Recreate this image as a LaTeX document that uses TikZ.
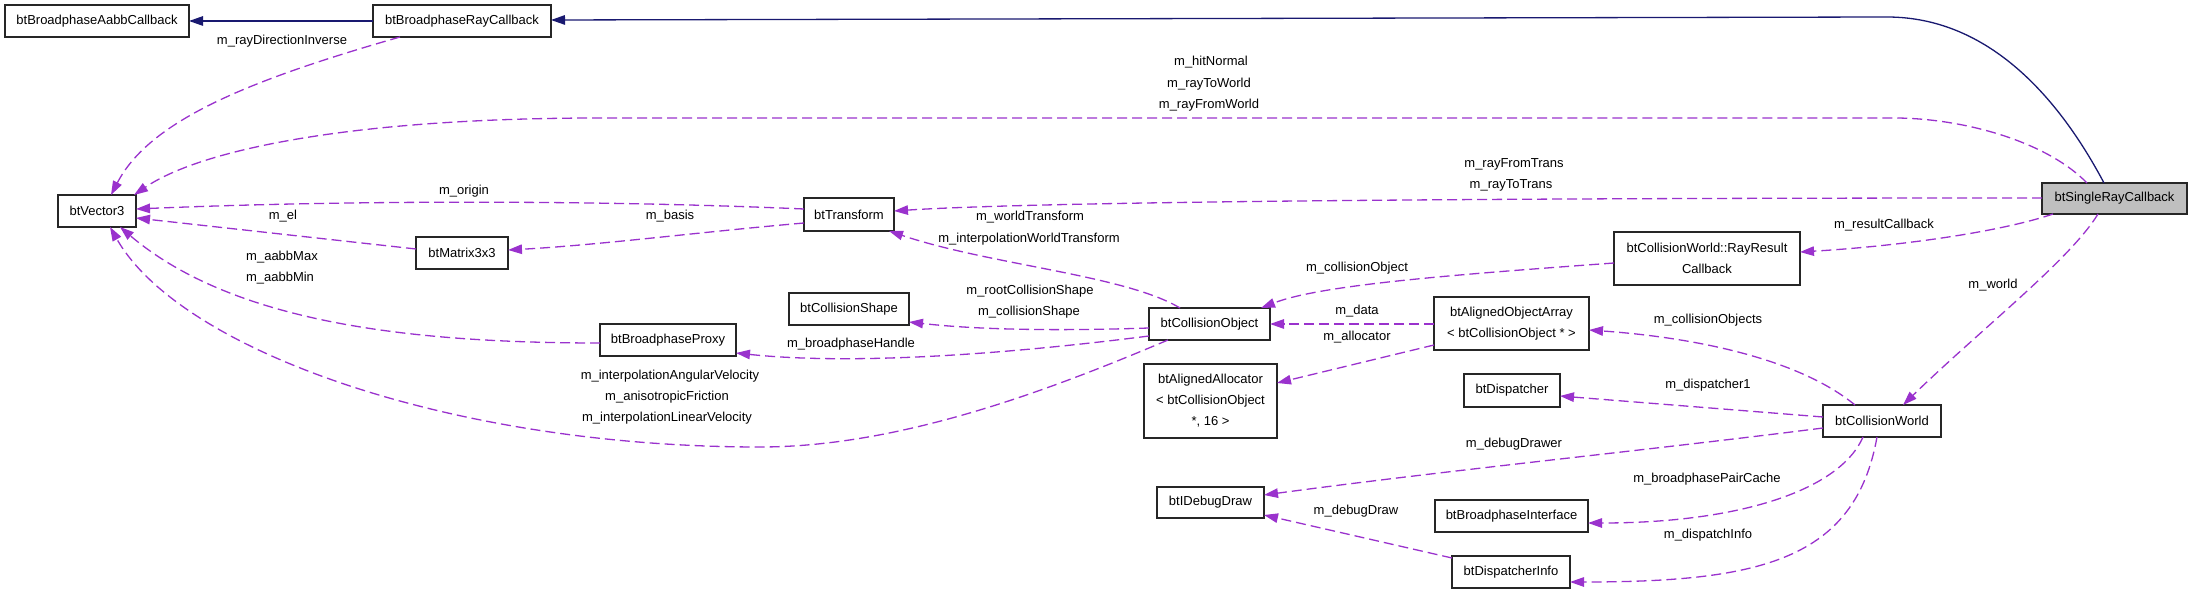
\documentclass[tikz,border=0pt]{standalone}
\usepackage{fontspec}
\setmainfont{Liberation Sans}
\usetikzlibrary{arrows.meta,calc}
\definecolor{pcol}{HTML}{9A32CD}
\definecolor{ncol}{HTML}{191970}
\definecolor{gcol}{HTML}{BFBFBF}
\begin{document}
\begin{tikzpicture}[x=1pt,y=-1pt,
  box/.style={draw=black!85,line width=1.4pt,rectangle,inner sep=0pt,outer sep=0pt,anchor=north west,align=center,font=\fontsize{13}{21}\selectfont},
  lbl/.style={inner sep=0pt,font=\fontsize{13}{21}\selectfont},
  dep/.style={draw=pcol,line width=1.3pt,dash pattern=on 10pt off 5pt,-{Triangle[length=14pt,width=9.5pt]}},
  inh/.style={draw=ncol,line width=1.3pt,-{Triangle[length=14pt,width=9.5pt]}}]
\useasboundingbox (0,0) rectangle (2192,593);
% nodes
\node[box,minimum width=184pt,minimum height=32pt] (aabb) at (5,5) {btBroadphaseAabbCallback};
\node[box,minimum width=178pt,minimum height=32pt] (ray) at (373,5) {btBroadphaseRayCallback};
\node[box,minimum width=78pt,minimum height=32pt] (vec) at (58,195) {btVector3};
\node[box,minimum width=92pt,minimum height=32pt] (mat) at (416,237) {btMatrix3x3};
\node[box,minimum width=90pt,minimum height=33pt] (trans) at (804,198) {btTransform};
\node[box,minimum width=136pt,minimum height=32pt] (proxy) at (600,324) {btBroadphaseProxy};
\node[box,minimum width=120pt,minimum height=32pt] (shape) at (789,293) {btCollisionShape};
\node[box,minimum width=121pt,minimum height=32pt] (cobj) at (1149,308) {btCollisionObject};
\node[box,minimum width=186pt,minimum height=53pt] (rrc) at (1614,232) {btCollisionWorld::RayResult\\Callback};
\node[box,minimum width=155pt,minimum height=53pt] (aoa) at (1434,297) {btAlignedObjectArray\\< btCollisionObject * >};
\node[box,minimum width=133pt,minimum height=74pt] (alloc) at (1144,364) {btAlignedAllocator\\< btCollisionObject\\*, 16 >};
\node[box,minimum width=96pt,minimum height=33pt] (disp) at (1464,374) {btDispatcher};
\node[box,minimum width=118pt,minimum height=32pt] (cw) at (1823,405) {btCollisionWorld};
\node[box,minimum width=107pt,minimum height=31pt] (idd) at (1157,487) {btIDebugDraw};
\node[box,minimum width=153pt,minimum height=32pt] (bi) at (1435,500) {btBroadphaseInterface};
\node[box,minimum width=118pt,minimum height=32pt] (di) at (1452,556) {btDispatcherInfo};
\node[box,fill=gcol,minimum width=145pt,minimum height=31pt] (src) at (2042,183) {btSingleRayCallback};
% inheritance
\draw[inh] ($(ray.north west)+(0,16)$) -- ($(aabb.north west)+(184,16)$);
\draw[inh] ($(src.north west)+(62,0)$) .. controls (2060,100) and (1990,17) .. (1887,17) -- ($(ray.north west)+(178,15)$);
% usage
\draw[dep] ($(ray.north west)+(27,32)$) .. controls (250,80) and (150,120) .. ($(vec.north west)+(53,0)$);
\draw[dep] ($(src.north west)+(45,0)$) .. controls (2045,140) and (1960,118) .. (1894,118) -- (600,118) .. controls (350,118) and (200,150) .. ($(vec.north west)+(76,0)$);
\draw[dep] ($(src.north west)+(0,15)$) .. controls (1300,198) and (1000,204) .. ($(trans.north west)+(90,13)$);
\draw[dep] ($(trans.north west)+(0,11)$) .. controls (600,200) and (350,200) .. ($(vec.north west)+(78,14)$);
\draw[dep] ($(trans.north west)+(0,25)$) .. controls (700,232) and (600,245) .. ($(mat.north west)+(92,13)$);
\draw[dep] ($(mat.north west)+(0,12)$) -- ($(vec.north west)+(78,23)$);
\draw[dep] ($(proxy.north west)+(0,19)$) .. controls (400,343) and (230,320) .. ($(vec.north west)+(62,32)$);
\draw[dep] ($(cobj.north west)+(31,0)$) .. controls (1125,275) and (990,265) .. ($(trans.north west)+(85,33)$);
\draw[dep] ($(cobj.north west)+(0,20)$) .. controls (1060,331) and (980,330) .. ($(shape.north west)+(120,29)$);
\draw[dep] ($(cobj.north west)+(0,28)$) .. controls (1000,355) and (850,365) .. ($(proxy.north west)+(136,29)$);
\draw[dep] ($(cobj.north west)+(19,32)$) .. controls (1050,390) and (900,447) .. (760,447) .. controls (450,447) and (180,350) .. ($(vec.north west)+(52,32)$);
\draw[dep] ($(rrc.north west)+(0,31)$) .. controls (1450,275) and (1320,285) .. ($(cobj.north west)+(112,0)$);
\draw[dep] ($(aoa.north west)+(0,27)$) -- ($(cobj.north west)+(121,16)$);
\draw[dep] ($(aoa.north west)+(0,48)$) -- ($(alloc.north west)+(133,19)$);
\draw[dep] ($(src.north west)+(11,31)$) .. controls (2000,232) and (1900,246) .. ($(rrc.north west)+(186,20)$);
\draw[dep] ($(src.north west)+(56,31)$) .. controls (2070,260) and (1980,330) .. ($(cw.north west)+(80,0)$);
\draw[dep] ($(cw.north west)+(32,0)$) .. controls (1800,360) and (1700,338) .. ($(aoa.north west)+(155,33)$);
\draw[dep] ($(cw.north west)+(0,12)$) -- ($(disp.north west)+(96,22)$);
\draw[dep] ($(cw.north west)+(0,23)$) .. controls (1650,450) and (1450,470) .. ($(idd.north west)+(107,8)$);
\draw[dep] ($(cw.north west)+(40,32)$) .. controls (1840,490) and (1740,523) .. ($(bi.north west)+(153,23)$);
\draw[dep] ($(cw.north west)+(54,32)$) .. controls (1855,560) and (1760,582) .. ($(di.north west)+(118,26)$);
\draw[dep] ($(di.north west)+(0,2)$) -- ($(idd.north west)+(107,28)$);
% labels
\node[lbl] (l1) at (282,41) {m\_rayDirectionInverse};
\node[lbl] (l2) at (1211,62) {m\_hitNormal};
\node[lbl] (l3) at (1209,84) {m\_rayToWorld};
\node[lbl] (l4) at (1209,105) {m\_rayFromWorld};
\node[lbl] (l5) at (1514,164) {m\_rayFromTrans};
\node[lbl] (l6) at (1511,185) {m\_rayToTrans};
\node[lbl] (l7) at (464,191) {m\_origin};
\node[lbl] (l8) at (283,216) {m\_el};
\node[lbl] (l9) at (670,216) {m\_basis};
\node[lbl] (l10) at (282,257) {m\_aabbMax};
\node[lbl] (l11) at (280,278) {m\_aabbMin};
\node[lbl] (l12) at (1030,217) {m\_worldTransform};
\node[lbl] (l13) at (1029,239) {m\_interpolationWorldTransform};
\node[lbl] (l14) at (1357,268) {m\_collisionObject};
\node[lbl] (l15) at (1030,291) {m\_rootCollisionShape};
\node[lbl] (l16) at (1029,312) {m\_collisionShape};
\node[lbl] (l17) at (851,344) {m\_broadphaseHandle};
\node[lbl] (l18) at (1357,311) {m\_data};
\node[lbl] (l19) at (1357,337) {m\_allocator};
\node[lbl] (l20) at (670,376) {m\_interpolationAngularVelocity};
\node[lbl] (l21) at (667,397) {m\_anisotropicFriction};
\node[lbl] (l22) at (667,418) {m\_interpolationLinearVelocity};
\node[lbl] (l23) at (1884,225) {m\_resultCallback};
\node[lbl] (l24) at (1993,285) {m\_world};
\node[lbl] (l25) at (1708,320) {m\_collisionObjects};
\node[lbl] (l26) at (1708,385) {m\_dispatcher1};
\node[lbl] (l27) at (1514,444) {m\_debugDrawer};
\node[lbl] (l28) at (1707,479) {m\_broadphasePairCache};
\node[lbl] (l29) at (1356,511) {m\_debugDraw};
\node[lbl] (l30) at (1708,535) {m\_dispatchInfo};
\end{tikzpicture}
\end{document}
